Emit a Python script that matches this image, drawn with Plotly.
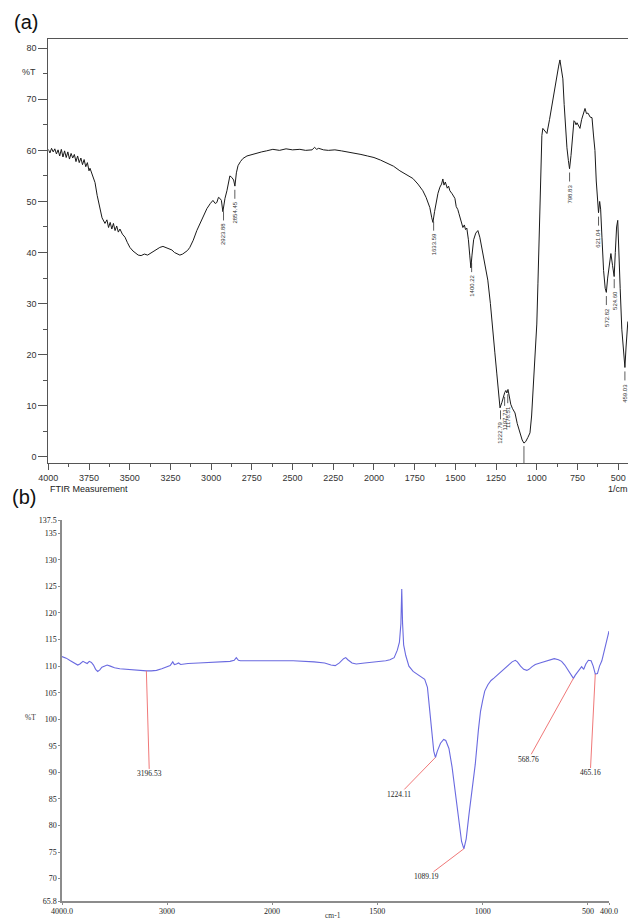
import numpy as np
import plotly.graph_objects as go

W, H = 635, 921

# ---------------- Panel (a) data ----------------
a_wn = [4000, 3990, 3980, 3970, 3960, 3950, 3940, 3930, 3920, 3910, 3900, 3890, 3880, 3870, 3860,
        3850, 3840, 3830, 3820, 3810, 3800, 3790, 3780, 3770, 3760, 3750, 3744, 3730, 3713, 3700,
        3683, 3670, 3652, 3640, 3630, 3620, 3610, 3600, 3590, 3580, 3570, 3560, 3545, 3529, 3515,
        3499, 3480, 3465, 3448, 3430, 3410, 3390, 3375, 3355, 3335, 3315, 3296, 3280, 3260, 3241,
        3225, 3208, 3192, 3175, 3160, 3145, 3131, 3110, 3088, 3069, 3045, 3026, 3005, 2989, 2975,
        2965, 2955, 2946, 2937, 2928, 2915, 2903, 2885, 2873, 2862, 2854, 2845, 2835, 2820, 2805,
        2780, 2750, 2719, 2690, 2660, 2621, 2580, 2540, 2500, 2455, 2420, 2380, 2365, 2352, 2340,
        2310, 2280, 2240, 2200, 2160, 2120, 2080, 2040, 2000, 1960, 1920, 1880, 1841, 1800, 1761,
        1730, 1700, 1680, 1657, 1645, 1638, 1628, 1617, 1607, 1595, 1585, 1577, 1570, 1562, 1550,
        1542, 1534, 1520, 1510, 1503, 1495, 1485, 1478, 1472, 1464, 1454, 1445, 1438, 1430, 1420,
        1412, 1405, 1398, 1388, 1375, 1362, 1350, 1335, 1320, 1301, 1285, 1270, 1258, 1246, 1236,
        1226, 1215, 1205, 1197, 1190, 1184, 1177, 1170, 1160, 1150, 1134, 1120, 1103, 1090, 1079,
        1068, 1055, 1042, 1032, 1024, 1012, 1000, 993, 987, 981, 975, 969, 963, 950, 938,
        922, 907, 890, 876, 866, 858, 849, 840, 832, 823, 815, 806, 799, 790, 780,
        772, 766, 759, 753, 744, 735, 725, 712, 704, 695, 686, 672, 661, 652, 643,
        635, 627, 621, 614, 608, 600, 590, 580, 573, 565, 555, 545, 535, 525, 518,
        510, 503, 497, 488, 478, 468, 459, 452, 446, 441]
a_T = [60.2, 59.5, 60.4, 59.7, 60.3, 59.3, 60.1, 58.9, 60.2, 58.7, 59.9, 58.6, 59.7, 58.3, 59.4,
       58.5, 59.2, 57.8, 58.9, 57.6, 58.5, 57.2, 58.2, 56.8, 57.6, 56.0, 56.5, 55.2, 53.7, 51.2,
       48.8, 46.8, 45.7, 46.4, 44.9, 45.9, 44.6, 45.7, 44.3, 45.2, 44.0, 44.6, 43.6, 43.0, 42.0,
       41.0, 40.3, 39.9, 39.5, 39.4, 39.7, 39.5, 39.8, 40.3, 40.7, 41.0, 41.2, 41.0, 40.8, 40.5,
       40.0, 39.7, 39.5, 39.7, 40.0, 40.4, 41.0, 42.4, 44.3, 45.7, 47.2, 48.6, 49.6, 50.2, 49.6,
       49.8, 50.8, 50.6, 50.2, 48.0, 50.6, 52.1, 55.0, 54.7, 54.2, 53.0, 55.6, 57.0, 57.8, 58.4,
       58.9, 59.2, 59.4, 59.7, 59.9, 60.2, 60.0, 60.3, 60.1, 60.2, 60.0, 60.1, 60.6, 60.2, 60.4,
       60.1, 60.0, 60.1, 59.9, 59.7, 59.5, 59.2, 58.9, 58.6, 58.1, 57.5, 56.9, 56.0, 55.2, 54.5,
       53.4, 52.1, 50.8, 48.8, 46.8, 45.9, 48.0, 50.2, 51.6, 52.8, 53.4, 54.4, 53.2, 53.8, 52.6,
       53.0, 52.1, 51.5, 50.9, 50.6, 49.0, 48.4, 47.6, 46.9, 45.6, 44.9, 45.4, 44.5, 44.8, 42.5,
       39.5, 37.0, 39.5, 42.5, 43.8, 44.3, 43.0, 40.5, 38.0, 34.6, 30.0, 25.4, 20.5, 16.4, 12.0,
       9.6, 10.6, 11.8, 12.6, 13.0, 12.5, 13.2, 11.8, 10.3, 9.5, 8.6, 6.5, 4.7, 3.3, 2.7,
       3.0, 3.8, 4.7, 8.0, 13.0, 19.0, 26.0, 34.0, 42.0, 50.0, 57.0, 62.9, 64.3, 63.8, 63.3,
       66.0, 69.0, 72.0, 74.5, 76.5, 77.7, 76.0, 74.0, 69.0, 64.0, 60.5, 58.0, 56.4, 59.0, 63.0,
       65.8, 65.6, 65.0, 65.4, 64.8, 64.3, 66.0, 67.5, 68.2, 67.2, 67.3, 66.5, 66.4, 63.0, 60.0,
       54.0, 49.5, 47.8, 50.0, 48.5, 43.0, 36.5, 33.0, 32.2, 35.0, 37.5, 39.8, 37.5, 35.3, 40.0,
       45.0, 46.3, 42.0, 33.0, 25.0, 20.0, 17.5, 21.5, 25.0, 26.5]

a_peaks = [2923.88, 2854.45, 1633.59, 1400.22, 1222.79, 1197.71, 1178.51,
           798.83, 621.04, 572.82, 524.60, 459.03]
a_min_wn = 1079.0
a_x_ticks = [4000, 3750, 3500, 3250, 3000, 2750, 2500, 2250, 2000, 1750, 1500, 1250, 1000, 750, 500]
a_x_minor = [3875, 3625, 3375, 3125, 2875, 2625, 2375, 2125, 1875, 1625, 1375, 1125, 875, 625]
a_y_ticks = [0, 10, 20, 30, 40, 50, 60, 70, 80]
a_y_minor = [5, 15, 25, 35, 45, 55, 65, 75]

# ---------------- Panel (b) data ----------------
b_wn = [4000, 3960, 3920, 3880, 3850, 3830, 3800, 3780, 3760, 3740, 3720, 3700, 3680, 3660, 3640,
        3620, 3600, 3570, 3540, 3500, 3450, 3400, 3350, 3300, 3250, 3196, 3150, 3100, 3050, 3000,
        2970, 2945, 2930, 2910, 2890, 2870, 2840, 2800, 2700, 2600, 2500, 2400, 2360, 2340, 2320,
        2300, 2200, 2100, 2000, 1900, 1800, 1750, 1720, 1700, 1680, 1660, 1650, 1640, 1620, 1600,
        1560, 1500, 1460, 1440, 1420, 1405, 1395, 1388, 1384, 1380, 1375, 1365, 1350, 1330, 1310,
        1290, 1275, 1262, 1250, 1240, 1232, 1224, 1215, 1200, 1185, 1175, 1160, 1145, 1130, 1115,
        1100, 1089, 1078, 1065, 1050, 1035, 1020, 1010, 1000, 990, 975, 960, 945, 920, 900,
        880, 860, 845, 835, 820, 805, 790, 780, 765, 750, 720, 690, 660, 640, 625,
        610, 592, 580, 569, 560, 550, 540, 530, 520, 510, 498, 485, 475, 465, 455,
        445, 434, 420, 410, 400]
b_T = [111.8, 111.5, 111.0, 110.5, 110.2, 110.4, 110.9, 110.7, 110.5, 110.9, 110.7, 110.2, 109.4, 109.0, 109.3,
       109.8, 110.0, 110.2, 110.0, 109.7, 109.5, 109.4, 109.4, 109.3, 109.2, 109.1, 109.1, 109.2, 109.5, 109.8,
       110.1, 110.8, 110.3, 110.4, 110.6, 110.3, 110.4, 110.5, 110.6, 110.7, 110.8, 110.9, 111.1, 111.6, 111.1,
       111.0, 111.0, 111.0, 111.0, 111.0, 110.8, 110.6, 110.2, 110.1, 110.6, 111.4, 111.6, 111.2, 110.6, 110.4,
       110.6, 110.8, 111.0, 111.2, 111.6, 113.0, 114.5, 118.0, 124.5, 118.0, 114.0, 112.0, 110.0, 109.0, 108.4,
       107.8, 107.5, 106.0, 101.0, 97.0, 94.0, 92.8, 94.0, 95.5, 96.2, 96.0, 94.5, 91.0, 86.0, 81.0,
       77.0, 75.6, 77.5, 82.0, 86.5, 91.5, 98.0, 101.5, 103.5, 105.3, 106.5, 107.3, 107.8, 108.7, 109.3,
       110.0, 110.8, 111.1, 110.8, 110.0, 109.4, 109.2, 109.4, 109.9, 110.3, 110.7, 111.1, 111.4, 111.2, 110.9,
       110.2, 109.0, 108.3, 107.7, 108.3, 108.9, 109.5, 109.9, 109.4, 110.4, 111.1, 111.0, 110.0, 108.5, 108.6,
       110.0, 111.0, 113.5, 115.0, 116.6]

b_peaks = [3196.53, 1224.11, 1089.19, 568.76, 465.16]
b_x_ticks_left = [4000, 3000, 2000]
b_x_text_left = ["4000.0", "3000", "2000"]
b_x_ticks_right = [1500, 1000, 500, 400]
b_x_text_right = ["1500", "1000", "500", "400.0"]
b_y_ticks = [65.8, 70, 75, 80, 85, 90, 95, 100, 105, 110, 115, 120, 125, 130, 135, 137.5]

# label offsets (pixels) for panel (b) leader lines
b_offsets = [(3, 103), (-36, 37), (-37, 28), (-45, 81), (-5, 99)]


def fx(px):
    return px / W


def fy(py):
    return 1 - py / H


def interp(wn, xs, ys):
    return float(np.interp(wn, xs[::-1], ys[::-1]))


sans = "Liberation Sans, Arial, sans-serif"
serif = "Liberation Serif, Times New Roman, serif"

fig = go.Figure()

# Panel (a) spectrum
fig.add_trace(go.Scatter(x=a_wn, y=a_T, mode="lines", xaxis="x", yaxis="y",
                         line=dict(color="#1a1a1a", width=1.0), hoverinfo="skip", showlegend=False))

# Panel (b) spectrum, split on the scale change at 2000
bw = np.array(b_wn)
bt = np.array(b_T)
left = bw >= 2000
right = bw <= 2000
fig.add_trace(go.Scatter(x=bw[left], y=bt[left], mode="lines", xaxis="x2", yaxis="y2",
                         line=dict(color="#6a6ae0", width=1.1), showlegend=False))
fig.add_trace(go.Scatter(x=bw[right], y=bt[right], mode="lines", xaxis="x3", yaxis="y2",
                         line=dict(color="#6a6ae0", width=1.1), showlegend=False))

shapes = []
annotations = []

a_wn_arr = np.array(a_wn, dtype=float)
a_T_arr = np.array(a_T, dtype=float)
for wn in a_peaks:
    yv = interp(wn, a_wn_arr, a_T_arr)
    shapes.append(dict(type="line", xref="x", yref="y", x0=wn, x1=wn,
                       ysizemode="pixel", yanchor=yv, y0=-4, y1=-13,
                       line=dict(color="#333", width=0.8)))
    annotations.append(dict(x=wn, y=yv, xref="x", yref="y", text=f"{wn:.2f}",
                            showarrow=False, textangle=-90, yanchor="top", xanchor="center",
                            yshift=-14, font=dict(family=sans, size=6, color="#333")))
ymin = interp(a_min_wn, a_wn_arr, a_T_arr)
shapes.append(dict(type="line", xref="x", yref="y", x0=a_min_wn, x1=a_min_wn,
                   y0=ymin - 0.6, y1=-1.2, line=dict(color="#333", width=0.8)))

# Panel (b) leader labels
for wn, (ox, oy) in zip(b_peaks, b_offsets):
    yv = interp(wn, bw.astype(float), bt)
    annotations.append(dict(x=wn, y=yv, xref="x2" if wn >= 2000 else "x3", yref="y2",
                            text=f"{wn:.2f}", showarrow=True, arrowhead=0, arrowwidth=1,
                            arrowcolor="#f07878", ax=ox, ay=oy, standoff=0, borderpad=0,
                            font=dict(family=serif, size=7.5, color="#222")))

# Texts
annotations += [
    dict(x=fx(12), y=fy(22), xref="paper", yref="paper", text="(a)", showarrow=False,
         xanchor="left", yanchor="middle", font=dict(family=sans, size=20, color="#111")),
    dict(x=fx(10), y=fy(497), xref="paper", yref="paper", text="(b)", showarrow=False,
         xanchor="left", yanchor="middle", font=dict(family=sans, size=20, color="#111")),
    dict(x=fx(38), y=fy(72), xref="paper", yref="paper", text="%T", showarrow=False,
         xanchor="right", yanchor="middle", font=dict(family=sans, size=9, color="#333")),
    dict(x=fx(48), y=fy(489), xref="paper", yref="paper", text="FTIR Measurement", showarrow=False,
         xanchor="left", yanchor="middle", font=dict(family=sans, size=9, color="#222")),
    dict(x=fx(630), y=fy(489), xref="paper", yref="paper", text="1/cm", showarrow=False,
         xanchor="right", yanchor="middle", font=dict(family=sans, size=9, color="#222")),
    dict(x=fx(38), y=fy(717), xref="paper", yref="paper", text="%T", showarrow=False,
         xanchor="right", yanchor="middle", font=dict(family=serif, size=7.5, color="#333")),
    dict(x=fx(333), y=fy(915), xref="paper", yref="paper", text="cm-1", showarrow=False,
         xanchor="center", yanchor="middle", font=dict(family=serif, size=7.5, color="#333")),
]

axis_a = dict(showgrid=False, zeroline=False, showline=True, linecolor="#555", linewidth=1,
              automargin=False,
              ticks="outside", tickcolor="#555", tickfont=dict(family=sans, size=9, color="#333"))
axis_b = dict(showgrid=False, zeroline=False, showline=True, linecolor="#8c8c8c", linewidth=1.5,
              automargin=False,
              ticks="outside", tickcolor="#8c8c8c", ticklen=2,
              tickfont=dict(family=serif, size=8, color="#222"))

fig.update_layout(
    width=W, height=H, margin=dict(l=0, r=0, t=0, b=0, pad=0, autoexpand=False),
    paper_bgcolor="white", plot_bgcolor="white", showlegend=False,
    shapes=shapes, annotations=annotations,
    xaxis=dict(**axis_a, domain=[fx(48.3), fx(628)], range=[4000, 440], anchor="y", mirror=True,
               tickvals=a_x_ticks, ticktext=[str(v) for v in a_x_ticks], ticklen=6,
               minor=dict(tickvals=a_x_minor, ticklen=3, ticks="outside", tickcolor="#555")),
    yaxis=dict(**axis_a, domain=[fy(463), fy(39)], range=[-1.2, 81.8], anchor="x",
               tickvals=a_y_ticks, ticktext=[str(v) for v in a_y_ticks], ticklen=9,
               minor=dict(tickvals=a_y_minor, ticklen=4, ticks="outside", tickcolor="#555")),
    xaxis2=dict(**axis_b, domain=[fx(62), fx(272)], range=[4000, 2000], anchor="y2",
                tickvals=b_x_ticks_left, ticktext=b_x_text_left),
    xaxis3=dict(**axis_b, domain=[fx(272), fx(609)], range=[2000, 400], anchor="y2",
                tickvals=b_x_ticks_right, ticktext=b_x_text_right),
    yaxis2=dict(**axis_b, domain=[fy(901), fy(520)], range=[65.8, 137.5], anchor="x2",
                tickvals=b_y_ticks, ticktext=[f"{v:g}" for v in b_y_ticks]),
)

fig.write_html("out.html", config={"displayModeBar": False},
               post_script="document.body.style.margin='0px';document.body.style.overflow='hidden';")
